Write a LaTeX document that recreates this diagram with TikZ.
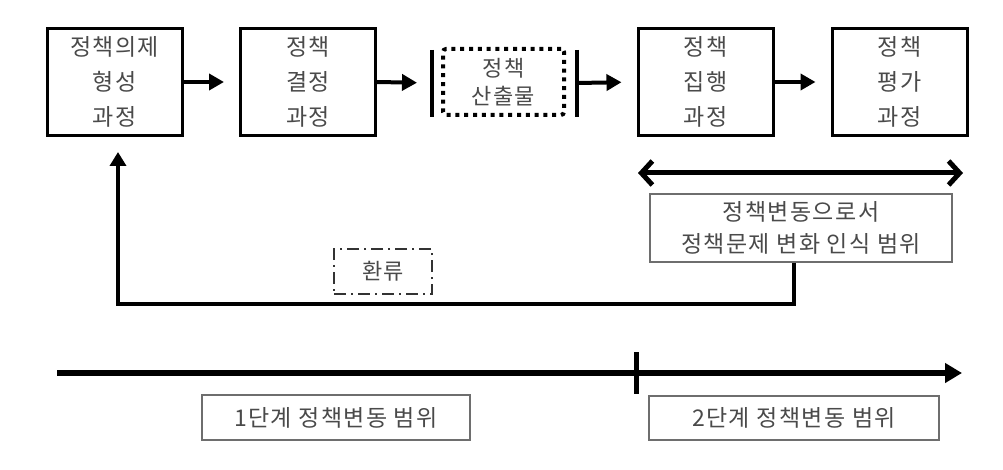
\documentclass[tikz,border=0pt]{standalone}
\usepackage{fontspec}
\newfontfamily\kr[LetterSpace=6]{Noto Sans CJK KR}
\usetikzlibrary{arrows.meta,calc}
\definecolor{txt}{HTML}{4A4A4A}
\definecolor{thin}{HTML}{6E6E6E}
\begin{document}
\begin{tikzpicture}[x=1pt,y=-1pt,
  stage/.style={draw, line width=3pt, minimum width=135pt, minimum height=107pt,
    inner sep=0pt, align=center, text=txt, font=\kr\fontsize{23}{35}\selectfont},
  outbox/.style={draw, line width=4pt, dash pattern=on 4pt off 4.8pt, rounded corners=3pt,
    minimum width=121pt, minimum height=66pt, inner sep=0pt, align=center, text=txt,
    font=\kr\fontsize{22}{28}\selectfont},
  label/.style={draw=thin, line width=1.2pt, inner sep=0pt, align=center, text=txt,
    font=\kr\fontsize{23}{32}\selectfont},
  fbbox/.style={draw=black!80, line width=2pt, dash pattern=on 12pt off 5pt on 2pt off 5pt,
    minimum width=98pt, minimum height=45pt, inner sep=0pt, text=txt,
    font=\kr\fontsize{22}{26}\selectfont},
  flow/.style={line width=4pt, -{Triangle[length=15pt,width=16pt]}, shorten >=15pt},
  bar/.style={line width=3.5pt},
  fb/.style={line width=4pt, line join=miter, -{Triangle[length=14pt,width=16pt]}, shorten >=15pt},
  dbl/.style={line width=5pt, {Straight Barb[length=11pt,width=24pt,line width=5pt]}-{Straight Barb[length=11pt,width=24pt,line width=5pt]}},
  tl/.style={line width=5.5pt, -{Triangle[length=17pt,width=19pt]}},
]
\fill[white] (0,0) rectangle (1003,470);
\useasboundingbox (0,0) rectangle (1003,470);

% stages
\node[stage] (b1) at (114.5,82) {정책의제\\형성\\과정};
\node[stage] (b2) at (308,82) {정책\\결정\\과정};
\node[outbox] (out) at (503.5,82) {정책\\산출물};
\node[stage] (b4) at (705.5,82) {정책\\집행\\과정};
\node[stage] (b5) at (899.5,82) {정책\\평가\\과정};

% bars around the output
\coordinate (barL) at (432,83);
\coordinate (barR) at (577,83);
\draw[bar] (432,50) -- (432,117);
\draw[bar] (577,50) -- (577,117);

% flow arrows
\draw[flow] (b1.east) -- (b2.west);
\draw[flow] (b2.east) -- (barL);
\draw[flow] (barR) -- (b4.west);
\draw[flow] (b4.east) -- (b5.west);

% range arrow and policy-change box
\coordinate (dl) at (638,173);
\coordinate (dr) at (963,173);
\draw[dbl] (dl) -- (dr);
\node[label, minimum width=302pt, minimum height=68pt] (pc) at (801,228)
  {정책변동으로서\\정책문제 변화 인식 범위};

% feedback loop
\coordinate (fbc) at (118,304);
\draw[fb] ([xshift=-7pt]pc.south) |- (fbc) -- ([xshift=3.5pt]b1.south);
\node[fbbox] (fbl) at (383,271.5) {환류};

% timeline
\coordinate (ts) at (57,373);
\coordinate (te) at (962,373);
\draw[tl] (ts) -- (te);
\draw[line width=5pt] (636,352) -- (636,394);

\node[label, minimum width=268pt, minimum height=45pt] (s1) at (336,417.5) {1단계 정책변동 범위};
\node[label, minimum width=290pt, minimum height=44pt] (s2) at (794,418) {2단계 정책변동 범위};
\end{tikzpicture}
\end{document}
